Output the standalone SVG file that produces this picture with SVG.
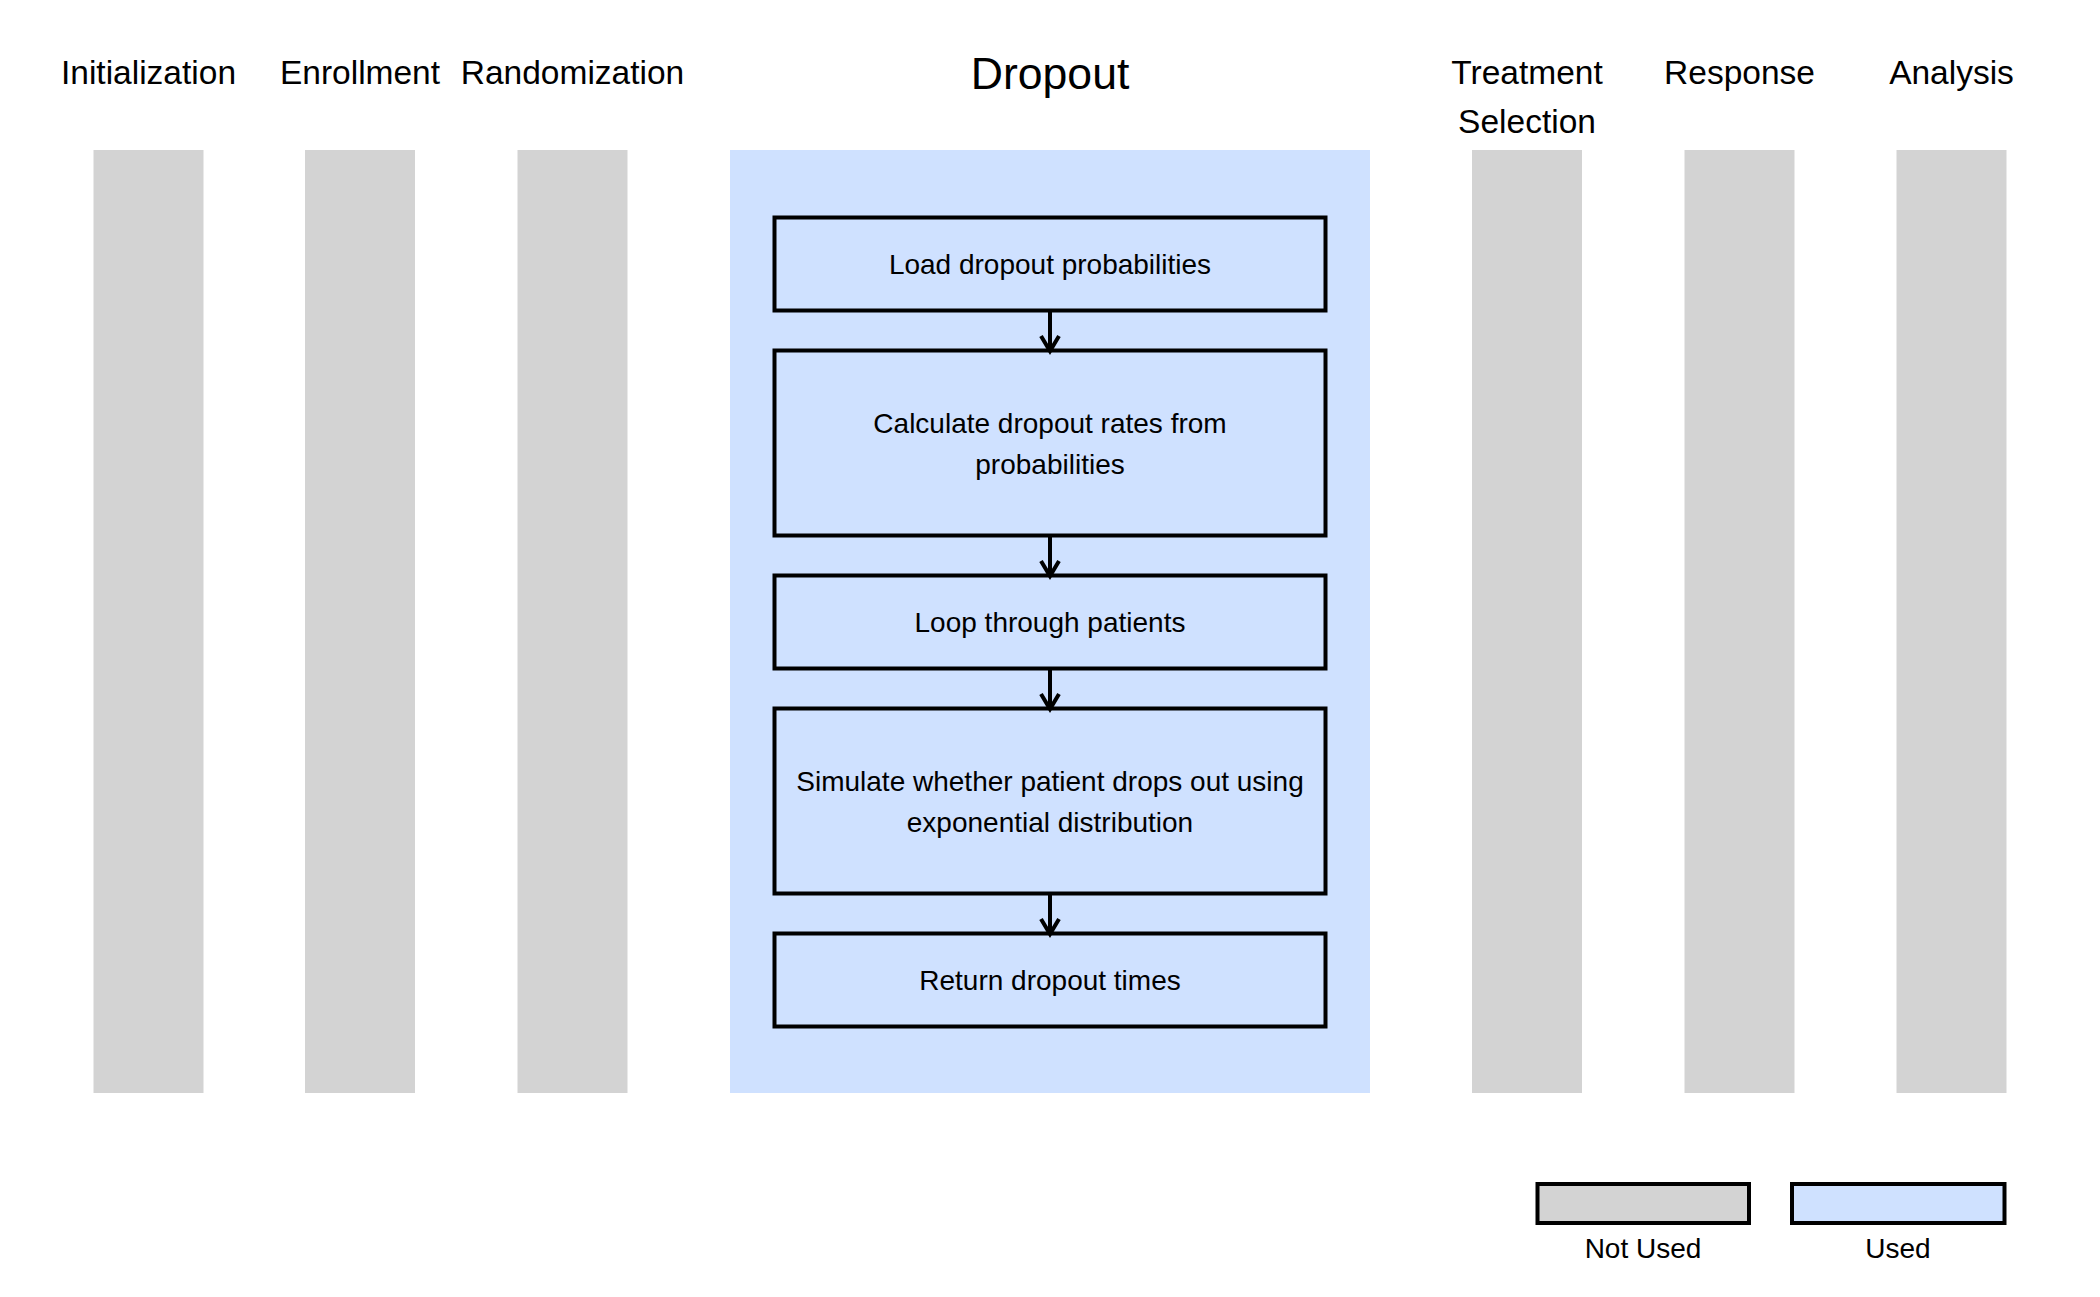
<svg xmlns="http://www.w3.org/2000/svg" width="2100" height="1297" viewBox="0 0 2100 1297">
  <style>
    text { font-family: "Liberation Sans", Arial, sans-serif; fill: #000; text-anchor: middle; }
    .title { font-size: 33.5px; }
    .big { font-size: 44.6px; }
    .lbl { font-size: 28px; }
    .unused { fill: #d3d3d3; }
    .used { fill: #cfe1ff; }
    .box { fill: #cfe1ff; stroke: #000; stroke-width: 4; }
    .legend-gray { fill: #d3d3d3; stroke: #000; stroke-width: 4; }
    .legend-blue { fill: #cfe1ff; stroke: #000; stroke-width: 4; }
    .conn { stroke: #000; stroke-width: 4; fill: none; }
  </style>
  <defs>
    <marker id="arrow" markerUnits="userSpaceOnUse" markerWidth="24" markerHeight="24" viewBox="-20 -12 24 24" refX="0" refY="0" orient="auto">
      <path d="M -15 -9 L 0 0 L -15 9" fill="none" stroke="#000" stroke-width="4"/>
    </marker>
  </defs>
  <rect width="2100" height="1297" fill="#fff"/>

  <g id="lane-initialization">
    <rect class="unused" x="93.5" y="150" width="110" height="943"/>
    <text class="title" x="148.5" y="84">Initialization</text>
  </g>
  <g id="lane-enrollment">
    <rect class="unused" x="305" y="150" width="110" height="943"/>
    <text class="title" x="360" y="84">Enrollment</text>
  </g>
  <g id="lane-randomization">
    <rect class="unused" x="517.5" y="150" width="110" height="943"/>
    <text class="title" x="572.5" y="84">Randomization</text>
  </g>
  <g id="lane-dropout">
    <rect class="used" x="730" y="150" width="640" height="943"/>
    <text class="big" x="1050" y="89">Dropout</text>
  </g>
  <g id="lane-treatment-selection">
    <rect class="unused" x="1472" y="150" width="110" height="943"/>
    <text class="title" x="1527" y="84">Treatment</text>
    <text class="title" x="1527" y="133">Selection</text>
  </g>
  <g id="lane-response">
    <rect class="unused" x="1684.5" y="150" width="110" height="943"/>
    <text class="title" x="1739.5" y="84">Response</text>
  </g>
  <g id="lane-analysis">
    <rect class="unused" x="1896.5" y="150" width="110" height="943"/>
    <text class="title" x="1951.5" y="84">Analysis</text>
  </g>

  <g id="node-load">
    <rect class="box" x="774.5" y="217.5" width="551" height="93"/>
    <text class="lbl" x="1050" y="274">Load dropout probabilities</text>
  </g>
  <g id="node-calculate">
    <rect class="box" x="774.5" y="350.5" width="551" height="185"/>
    <text class="lbl" x="1050" y="433">Calculate dropout rates from</text>
    <text class="lbl" x="1050" y="474">probabilities</text>
  </g>
  <g id="node-loop">
    <rect class="box" x="774.5" y="575.5" width="551" height="93"/>
    <text class="lbl" x="1050" y="632">Loop through patients</text>
  </g>
  <g id="node-simulate">
    <rect class="box" x="774.5" y="708.5" width="551" height="185"/>
    <text class="lbl" x="1050" y="791">Simulate whether patient drops out using</text>
    <text class="lbl" x="1050" y="832">exponential distribution</text>
  </g>
  <g id="node-return">
    <rect class="box" x="774.5" y="933.5" width="551" height="93"/>
    <text class="lbl" x="1050" y="990">Return dropout times</text>
  </g>

  <g id="connectors">
    <line class="conn" x1="1050" y1="310.5" x2="1050" y2="351" marker-end="url(#arrow)"/>
    <line class="conn" x1="1050" y1="535.5" x2="1050" y2="576" marker-end="url(#arrow)"/>
    <line class="conn" x1="1050" y1="668.5" x2="1050" y2="709" marker-end="url(#arrow)"/>
    <line class="conn" x1="1050" y1="893.5" x2="1050" y2="934" marker-end="url(#arrow)"/>
  </g>

  <g id="legend-not-used">
    <rect class="legend-gray" x="1537.5" y="1184" width="211.5" height="39"/>
    <text class="lbl" x="1643" y="1258">Not Used</text>
  </g>
  <g id="legend-used">
    <rect class="legend-blue" x="1792" y="1184" width="212.5" height="39"/>
    <text class="lbl" x="1898" y="1258">Used</text>
  </g>
</svg>
